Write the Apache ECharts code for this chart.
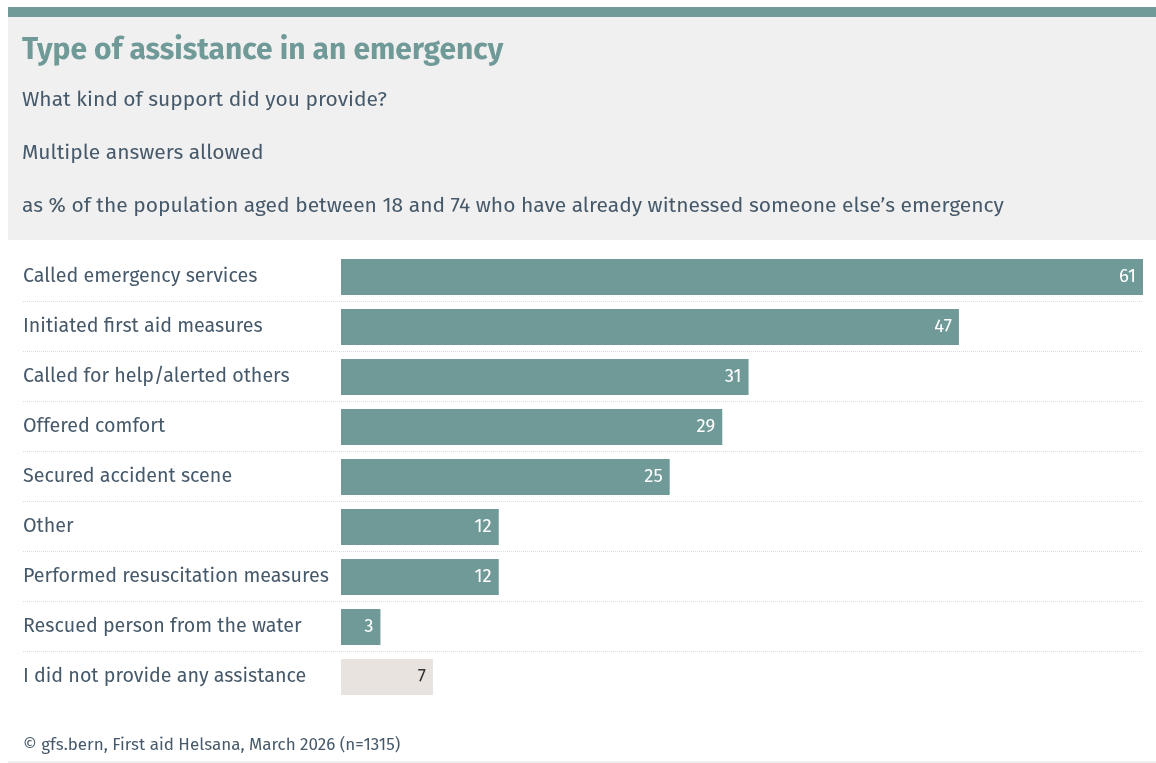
<!DOCTYPE html>
<html>
<head>
<meta charset="utf-8">
<script src="https://cdn.jsdelivr.net/npm/echarts@6/dist/echarts.min.js"></script>
<style>
  html, body { margin: 0; padding: 0; background: #ffffff; }
  #chart { width: 1156px; height: 763px; }
</style>
</head>
<body>
<div id="chart"></div>
<script>
// Survey answers, top to bottom
const categories = [
  'Called emergency services',
  'Initiated first aid measures',
  'Called for help/alerted others',
  'Offered comfort',
  'Secured accident scene',
  'Other',
  'Performed resuscitation measures',
  'Rescued person from the water',
  'I did not provide any assistance'
];
const values = [61, 47, 31, 29, 25, 12, 12, 3, 7];
// The last answer is a "no help" answer and gets the neutral colour
const neutralFlags = [false, false, false, false, false, false, false, false, true];

const titleText = 'Type of assistance in an emergency';
const subtitleLines = [
  'What kind of support did you provide?',
  'Multiple answers allowed',
  'as % of the population aged between 18 and 74 who have already witnessed someone else\u2019s emergency'
];
const sourceText = '\u00a9 gfs.bern, First aid Helsana, March 2026 (n=1315)';

const FONT = 'Fira Sans, Lato, "Noto Sans", sans-serif';
const TEAL = '#6f9a98';
const NEUTRAL = '#e8e3df';
const TEXT = '#46596a';

const chart = echarts.init(document.getElementById('chart'), null, { renderer: 'canvas' });

const GRID_LEFT = 341, GRID_RIGHT = 13, GRID_TOP = 252, GRID_BOTTOM = 61;

const headerGraphics = [
  { type: 'rect', shape: { x: 8, y: 7, width: 1148, height: 10 }, style: { fill: TEAL }, silent: true },
  { type: 'rect', shape: { x: 8, y: 17, width: 1148, height: 223 }, style: { fill: '#f0f0f0' }, silent: true },
  { type: 'text', x: 22, y: 51, style: { text: titleText, font: 'bold 30px ' + FONT, fill: TEAL, textVerticalAlign: 'middle' }, silent: true },
  { type: 'text', x: 22, y: 100, style: { text: subtitleLines[0], font: '21px ' + FONT, fill: TEXT, textVerticalAlign: 'middle' }, silent: true },
  { type: 'text', x: 22, y: 153, style: { text: subtitleLines[1], font: '21px ' + FONT, fill: TEXT, textVerticalAlign: 'middle' }, silent: true },
  { type: 'text', x: 22, y: 206, style: { text: subtitleLines[2], font: '21px ' + FONT, fill: TEXT, textVerticalAlign: 'middle' }, silent: true },
  { type: 'text', x: 23, y: 745, style: { text: sourceText, font: '17px ' + FONT, fill: TEXT, textVerticalAlign: 'middle' }, silent: true },
  { type: 'rect', shape: { x: 8, y: 761, width: 1148, height: 2 }, style: { fill: '#f0f0f0' }, silent: true }
];

chart.setOption({
  animation: false,
  backgroundColor: '#ffffff',
  grid: { left: GRID_LEFT, right: GRID_RIGHT, top: GRID_TOP, bottom: GRID_BOTTOM, containLabel: false },
  xAxis: {
    type: 'value', min: 0, max: 61,
    show: false
  },
  yAxis: {
    type: 'category',
    inverse: true,
    data: categories,
    axisLine: { show: false },
    axisTick: { show: false },
    splitLine: { show: false },
    axisLabel: {
      align: 'left',
      margin: GRID_LEFT - 23,
      color: TEXT,
      fontFamily: FONT,
      fontSize: 19.7,
      padding: [6, 0, 0, 0]
    }
  },
  series: [{
    type: 'bar',
    barWidth: 36,
    data: values.map((v, i) => ({
      value: v,
      itemStyle: { color: neutralFlags[i] ? NEUTRAL : TEAL },
      label: { color: neutralFlags[i] ? '#333333' : '#ffffff' }
    })),
    label: {
      show: true,
      position: 'insideRight',
      distance: 7,
      fontFamily: FONT,
      fontSize: 18.5
    }
  }],
  graphic: headerGraphics
});

// Dotted separators between rows, placed from the category axis scale
const separators = [];
for (let i = 0; i < categories.length - 1; i++) {
  const y0 = chart.convertToPixel({ yAxisIndex: 0 }, categories[i]);
  const y1 = chart.convertToPixel({ yAxisIndex: 0 }, categories[i + 1]);
  const y = Math.round((y0 + y1) / 2) - 0.5;
  separators.push({
    type: 'line',
    shape: { x1: 23, y1: y, x2: 1156 - GRID_RIGHT, y2: y },
    style: { stroke: '#dcdcdc', lineWidth: 1, lineDash: [1, 1] },
    silent: true
  });
}
chart.setOption({ graphic: headerGraphics.concat(separators) });
</script>
</body>
</html>
